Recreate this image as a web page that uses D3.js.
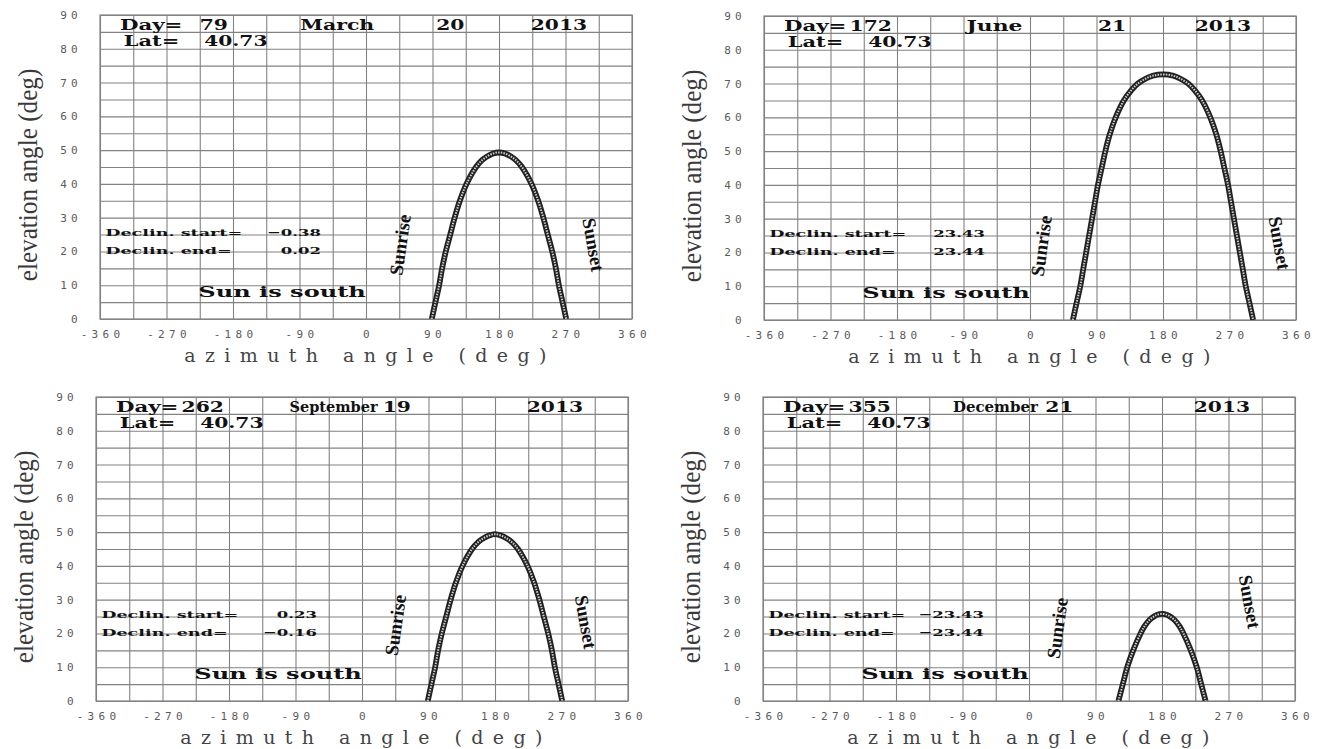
<!DOCTYPE html>
<html>
<head>
<meta charset="utf-8">
<script src="https://cdn.jsdelivr.net/npm/d3@7"></script>
<style>
  body { margin: 0; background: #fff; }
</style>
</head>
<body>
<svg id="chart"></svg>
<script>
// Chart values
const days = [79, 172, 262, 355];
const months = ["March", "June", "September", "December"];
const dates = [20, 21, 19, 21];
const years = [2013, 2013, 2013, 2013];
const latitudes = ["40.73", "40.73", "40.73", "40.73"];
const declStart = ["\u22120.38", "23.43", "0.23", "\u221223.43"];
const declEnd = ["0.02", "23.44", "\u22120.16", "\u221223.44"];

const xTickLabels = [-360, -270, -180, -90, 0, 90, 180, 270, 360];
const yTickLabels = [0, 10, 20, 30, 40, 50, 60, 70, 80, 90];

// sun path, azimuth (deg) and elevation (deg)
const marchAz = [89, 94, 99, 103, 108, 114, 120, 127, 136, 149, 157, 163, 172, 180, 188, 197, 203, 211, 224, 233, 240, 246, 252, 257, 261, 266, 271];
const marchEl = [0, 5, 10, 15, 20, 25, 30, 35, 40, 45, 47, 48, 49, 49.3, 49, 48, 47, 45, 40, 35, 30, 25, 20, 15, 10, 5, 0];

const juneAz = [58, 63, 68, 72, 76, 80, 84, 88, 92, 97, 102, 108, 116, 127, 137, 146, 157, 166, 180, 194, 203, 214, 223, 233, 244, 252, 258, 263, 268, 272, 276, 280, 284, 288, 292, 297, 302];
const juneEl = [0, 5, 10, 15, 20, 25, 30, 35, 40, 45, 50, 55, 60, 65, 68, 70, 71.5, 72.3, 72.7, 72.3, 71.5, 70, 68, 65, 60, 55, 50, 45, 40, 35, 30, 25, 20, 15, 10, 5, 0];

const septAz = [89, 94, 99, 103, 108, 114, 120, 127, 136, 149, 157, 163, 172, 180, 188, 197, 203, 211, 224, 233, 240, 246, 252, 257, 261, 266, 271];
const septEl = [0, 5, 10, 15, 20, 25, 30, 35, 40, 45, 47, 48, 49, 49.4, 49, 48, 47, 45, 40, 35, 30, 25, 20, 15, 10, 5, 0];

const decAz = [121, 127, 133, 141, 151, 156, 163, 169, 173, 180, 187, 191, 197, 204, 209, 219, 227, 233, 239];
const decEl = [0, 5, 10, 15, 20, 22, 24, 25, 25.5, 25.8, 25.5, 25, 24, 22, 20, 15, 10, 5, 0];

const pathAz = [marchAz, juneAz, septAz, decAz];
const pathEl = [marchEl, juneEl, septEl, decEl];

// Layout
const W = 1320, H = 749;
const pw = 532, ph = 304;
const panels = [
  { left: 100, top: 15, monthX: -89, monthW: 74, dateX: 95, riseX: 46, riseY: 22, setX: 308, setY: 22 },
  { left: 764, top: 16, monthX: -86, monthW: 56, dateX: 92, riseX: 15, riseY: 22, setX: 338, setY: 22.8 },
  { left: 96, top: 397, monthX: -98, monthW: 88, dateX: 28, riseX: 45, riseY: 22.5, setX: 303, setY: 23.4 },
  { left: 763, top: 397, monthX: -103, monthW: 85, dateX: 22, riseX: 38, riseY: 21.6, setX: 299, setY: 29.4 }
];

const svg = d3.select("#chart")
  .attr("width", W)
  .attr("height", H)
  .style("display", "block");

const boldSerif = "'DejaVu Serif', serif";

// bold slab text, widened to look like the plotter font
function stretched(g, x, y, txt, size, sx, anchor, width) {
  const t = g.append("text")
    .attr("text-anchor", anchor || "start")
    .style("font-family", boldSerif)
    .style("font-weight", "bold")
    .style("font-size", size + "px")
    .style("fill", "#111")
    .text(txt);
  if (width) {
    t.attr("x", x).attr("y", y)
      .attr("textLength", width)
      .attr("lengthAdjust", "spacingAndGlyphs");
  } else {
    t.attr("transform", `translate(${x},${y}) scale(${sx},1)`);
  }
  return t;
}

panels.forEach((p, i) => {
  const g = svg.append("g");
  const x = d3.scaleLinear().domain([-360, 360]).range([p.left, p.left + pw]);
  const y = d3.scaleLinear().domain([0, 90]).range([p.top + ph, p.top]);

  // grid via axes
  const xAxis = g.append("g")
    .attr("transform", `translate(0,${y(0)})`)
    .call(d3.axisBottom(x)
      .tickValues(d3.range(-360, 361, 45))
      .tickSize(-ph)
      .tickPadding(11)
      .tickFormat(d => xTickLabels.includes(d) ? d : ""));

  const yAxis = g.append("g")
    .attr("transform", `translate(${x(-360)},0)`)
    .call(d3.axisLeft(y)
      .tickValues(d3.range(0, 91, 5))
      .tickSize(-pw)
      .tickPadding(18)
      .tickFormat(d => yTickLabels.includes(d) ? d : ""));

  [xAxis, yAxis].forEach(a => {
    a.select(".domain").remove();
    a.selectAll("line").attr("stroke", "#828282").attr("stroke-width", 1.1);
    a.selectAll("text")
      .style("font-family", "'DejaVu Sans Mono', monospace")
      .style("font-size", "11px")
      .style("letter-spacing", "4.3px")
      .style("fill", "#5a5a5a");
  });
  xAxis.selectAll("text").attr("dx", "2px");

  g.append("rect")
    .attr("x", x(-360)).attr("y", y(90))
    .attr("width", pw).attr("height", ph)
    .attr("fill", "none").attr("stroke", "#828282").attr("stroke-width", 1.2);

  // axis titles
  g.append("text")
    .attr("transform", `translate(${p.left - 63},${p.top + ph / 2 + 8}) rotate(-90) scale(0.9,1)`)
    .attr("text-anchor", "middle")
    .style("font-family", "'Liberation Serif', serif")
    .style("font-size", "28px")
    .style("fill", "#3a3a3a")
    .text("elevation angle  (deg)");

  g.append("text")
    .attr("x", p.left + pw / 2 + 4)
    .attr("y", p.top + ph + 43)
    .attr("text-anchor", "middle")
    .style("font-family", "'DejaVu Serif', serif")
    .style("font-size", "19px")
    .style("letter-spacing", "9.4px")
    .style("fill", "#444")
    .text("azimuth angle  (deg)");

  // header texts
  stretched(g, x(-333), y(85.6), "Day=", 15, 1.42);
  stretched(g, x(-187), y(85.6), String(days[i]), 15, 1.35, "end");
  stretched(g, x(p.monthX), y(85.6), months[i], 15, 1, "start", p.monthW);
  stretched(g, x(p.dateX), y(85.6), String(dates[i]), 15, 1.35);
  stretched(g, x(223), y(85.6), String(years[i]), 15, 1.35);
  stretched(g, x(-328), y(80.8), "Lat=", 15, 1.4);
  stretched(g, x(-219), y(80.8), latitudes[i], 15, 1.35);

  // declination and note
  stretched(g, x(-353), y(24.5), "Declin. start=", 10, 1.76);
  stretched(g, x(-353), y(19.2), "Declin. end=", 10, 1.76);
  stretched(g, x(-61), y(24.5), declStart[i], 10, 1.65, "end");
  stretched(g, x(-61), y(19.2), declEnd[i], 10, 1.65, "end");
  stretched(g, x(-227), y(6.5), "Sun is south", 14, 1.72);

  // sun path
  const pts = pathAz[i].map((a, k) => [a, pathEl[i][k]]);
  const line = d3.line()
    .x(d => x(d[0]))
    .y(d => y(d[1]))
    .curve(d3.curveCatmullRom.alpha(0.5));
  const clip = "clip" + i;
  g.append("clipPath").attr("id", clip)
    .append("rect").attr("x", x(-360)).attr("y", y(90) - 2).attr("width", pw).attr("height", ph + 2);
  const pg = g.append("g").attr("clip-path", `url(#${clip})`);
  pg.append("path").datum(pts)
    .attr("d", line)
    .attr("fill", "none")
    .attr("stroke", "#222")
    .attr("stroke-width", 5.8);
  pg.append("path").datum(pts)
    .attr("d", line)
    .attr("fill", "none")
    .attr("stroke", "#cfcfcf")
    .attr("stroke-width", 2)
    .attr("stroke-dasharray", "1.5 1.2");

  // sunrise / sunset labels
  [["Sunrise", p.riseX, p.riseY, -82], ["Sunset", p.setX, p.setY, 80]].forEach(([t, ax, ay, r]) => {
    g.append("text")
      .attr("transform", `translate(${x(ax)},${y(ay)}) rotate(${r})`)
      .attr("text-anchor", "middle")
      .attr("dy", "0.35em")
      .style("font-family", "'Liberation Serif', serif")
      .style("font-weight", "bold")
      .style("font-size", "19px")
      .style("fill", "#111")
      .text(t);
  });
});
</script>
</body>
</html>
